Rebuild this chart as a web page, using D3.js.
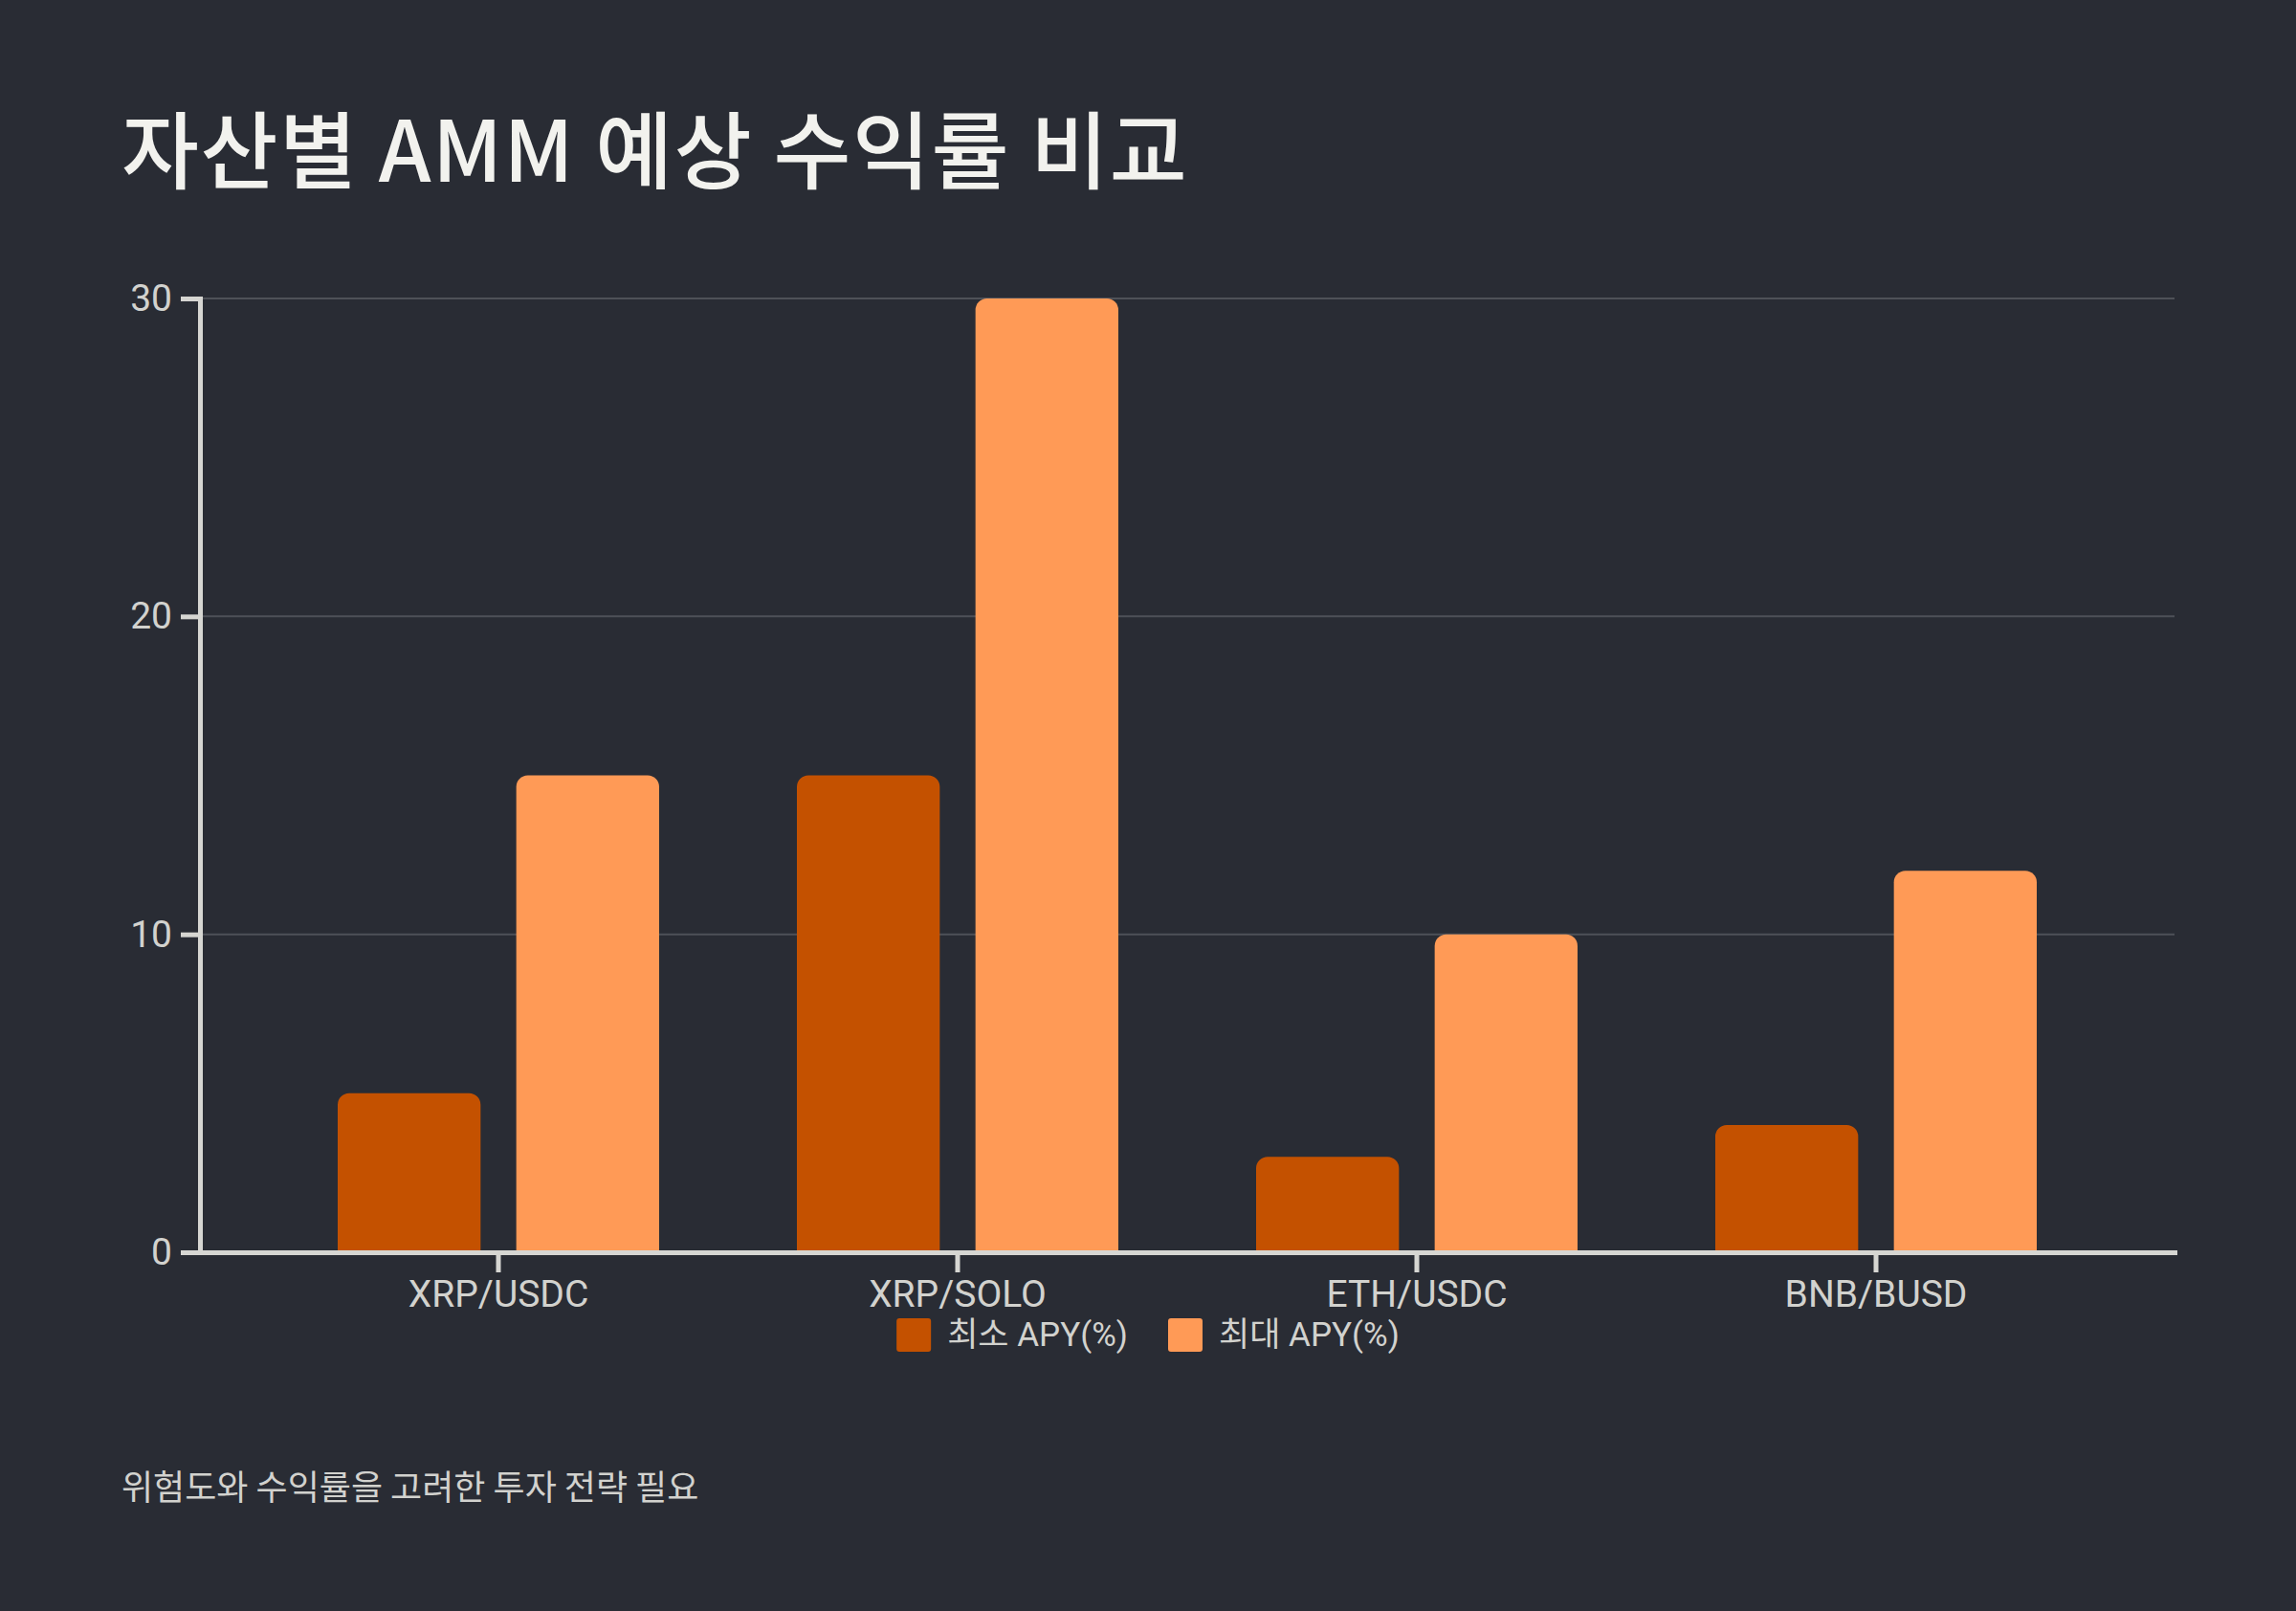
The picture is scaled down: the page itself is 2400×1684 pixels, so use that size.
<!DOCTYPE html>
<html><head><meta charset="utf-8">
<script src="https://cdn.jsdelivr.net/npm/d3@7"></script>
<style>html,body{margin:0;padding:0;background:#292c34;}</style>
</head><body><svg id="c"></svg>
<script>
const categories = ["XRP/USDC", "XRP/SOLO", "ETH/USDC", "BNB/BUSD"];
const seriesNames = ["최소 APY(%)", "최대 APY(%)"];
const minAPY = [5, 15, 3, 4];
const maxAPY = [15, 30, 10, 12];
const yTicks = [0, 10, 20, 30];
const seriesColors = ["#c45100", "#ff9a56"];
const titleText = "자산별 AMM 예상 수익률 비교";
const footerText = "위험도와 수익률을 고려한 투자 전략 필요";

const W = 2400, H = 1684;
const BG = "#292c34", AXIS = "#d6d6d2", TXT = "#d2d2ce";
const svg = d3.select("#c").attr("width", W).attr("height", H);
svg.append("rect").attr("width", W).attr("height", H).attr("fill", BG);

const pLeft = 209, pRight = 2273, pTop = 312, pBottom = 1309;
const x0 = d3.scaleBand().domain(categories).range([pLeft, pRight]).padding(0.3);
const x1 = d3.scaleBand().domain(seriesNames).range([0, x0.bandwidth()]).paddingInner(0.2).paddingOuter(0);
const y = d3.scaleLinear().domain([0, 30]).range([pBottom, pTop]);
const color = d3.scaleOrdinal().domain(seriesNames).range(seriesColors);

// grid lines
svg.append("g").selectAll("line").data(yTicks.filter(d => d > 0)).join("line")
  .attr("x1", pLeft).attr("x2", pRight)
  .attr("y1", d => y(d)).attr("y2", d => y(d))
  .attr("stroke", "#4e5158").attr("stroke-width", 2);

// bars
const rows = categories.map((c, i) => ({cat: c, vals: [minAPY[i], maxAPY[i]]}));
function topRounded(x, yTop, w, h, r) {
  r = Math.min(r, w / 2, h);
  return `M${x},${yTop + h}V${yTop + r}A${r},${r} 0 0 1 ${x + r},${yTop}H${x + w - r}A${r},${r} 0 0 1 ${x + w},${yTop + r}V${yTop + h}Z`;
}
const groups = svg.append("g").selectAll("g").data(rows).join("g")
  .attr("transform", d => `translate(${x0(d.cat)},0)`);
groups.selectAll("path").data(d => d.vals.map((v, j) => ({s: seriesNames[j], v}))).join("path")
  .attr("d", d => topRounded(x1(d.s), y(d.v), x1.bandwidth(), y(0) - y(d.v), 12))
  .attr("fill", d => color(d.s));

// y axis
const yAxis = svg.append("g").attr("transform", `translate(${pLeft},0)`)
  .call(d3.axisLeft(y).tickValues(yTicks).tickSize(20).tickSizeOuter(0).tickPadding(9));
// x axis
const xAxis = svg.append("g").attr("transform", `translate(0,${pBottom})`)
  .call(d3.axisBottom(x0).tickSize(21).tickSizeOuter(0).tickPadding(8));
[yAxis, xAxis].forEach(a => {
  a.attr("font-family", "Roboto, 'Noto Sans CJK KR', sans-serif").attr("font-size", 39);
  a.select(".domain").attr("stroke", AXIS).attr("stroke-width", 5).attr("stroke-linecap", "square");
  a.selectAll(".tick line").attr("stroke", AXIS).attr("stroke-width", 5);
  a.selectAll(".tick text").attr("fill", TXT);
});

// title
svg.append("text").attr("x", 127).attr("y", 190)
  .attr("font-family", "'Noto Sans CJK KR', sans-serif").attr("font-size", 88).attr("font-weight", 500)
  .attr("letter-spacing", 1.5)
  .attr("fill", "#f2f2ee").text(titleText);

// legend
const legend = svg.append("g");
const items = legend.selectAll("g").data(seriesNames).join("g");
items.append("rect").attr("width", 36).attr("height", 35).attr("rx", 3).attr("y", 1378)
  .attr("fill", d => color(d));
items.append("text").attr("y", 1407).attr("font-family", "Roboto, 'Noto Sans CJK KR', sans-serif")
  .attr("font-size", 35).attr("fill", TXT).text(d => d);
let widths = [];
items.select("text").each(function() { widths.push(this.getComputedTextLength()); });
const itemW = widths.map(w => 36 + 17 + w);
const gap = 42;
const total = d3.sum(itemW) + gap * (itemW.length - 1);
let cx = W / 2 - total / 2;
items.each(function(d, i) {
  const g = d3.select(this);
  g.select("rect").attr("x", cx);
  g.select("text").attr("x", cx + 53);
  cx += itemW[i] + gap;
});

// footer
svg.append("text").attr("x", 127).attr("y", 1568)
  .attr("font-family", "'Noto Sans CJK KR', sans-serif").attr("font-size", 36)
  .attr("fill", TXT).text(footerText);
</script>
</body></html>
